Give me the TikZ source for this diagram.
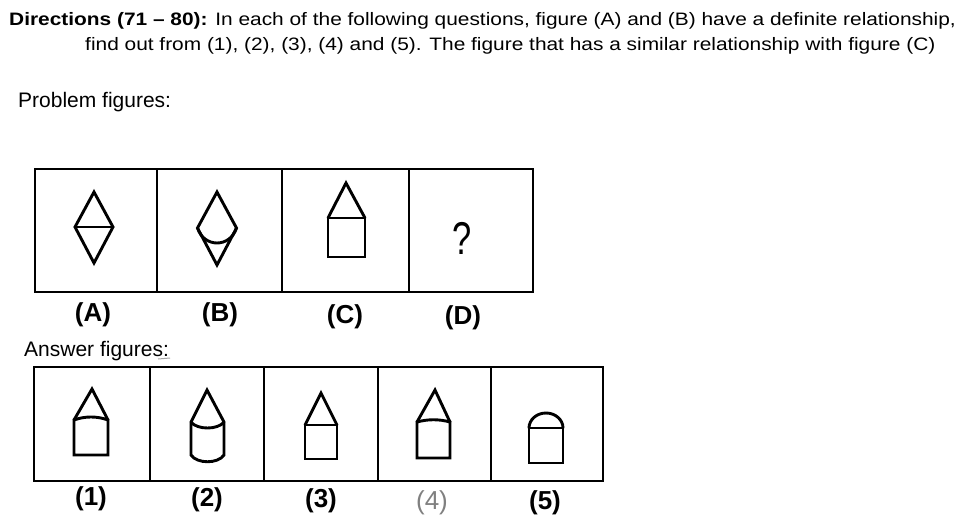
\documentclass[tikz,border=0pt]{standalone}
\usepackage{fontspec}
\setmainfont{Liberation Sans}
\newfontfamily\headfont[FakeStretch=1.16]{Liberation Sans}
\begin{document}
\begin{tikzpicture}[x=1pt,y=-1pt,
  boxline/.style={line width=2.9pt,line join=miter},
  shapeline/.style={line width=2.9pt,line join=miter,line cap=round},
  headtxt/.style={inner sep=0pt,anchor=base west,font=\headfont\fontsize{18}{20}\selectfont},
  captxt/.style={inner sep=0pt,anchor=base west,font=\fontsize{21}{24}\selectfont},
  lbl/.style={inner sep=0pt,font=\fontsize{26}{28}\selectfont\bfseries}]
\useasboundingbox (0,0) rectangle (968,532);
\fill[white] (0,0) rectangle (968,532);
% header
\node[headtxt] (h1) at (9,26) {\textbf{Directions (71 – 80):} In each of the following questions, figure (A) and (B) have a definite relationship,};
\node[headtxt] (h2) at (85,51) {find out from (1), (2), (3), (4) and (5). The figure that has a similar relationship with figure (C)};
\node[captxt] (pf) at (18,107) {Problem figures:};
\node[captxt] (af) at (24,356) {Answer figures:};
\draw[gray!70,line width=1pt] (158,359) -- (170,358);
% problem boxes
\draw[boxline] (35,169) rectangle (533,292);
\foreach \x in {157,282,409} \draw[boxline] (\x,169) -- (\x,292);
% A
\draw[shapeline] (94,192) -- (113,227) -- (94,263) -- (75,227) -- cycle;
\draw[shapeline] (75,227) -- (113,227);
% B
\draw[shapeline] (217,192) -- (236.5,228) -- (217,265) -- (197.5,228) -- cycle;
\draw[shapeline] (197.5,228) .. controls (204,248) and (230,248) .. (236.5,228);
% C
\draw[shapeline] (328,218) -- (346,183) -- (365,218);
\draw[shapeline] (328,218) rectangle (365,257);
% D
\node[inner sep=0pt,font=\fontsize{46}{46}\selectfont] (q) at (462,238) {\scalebox{0.75}[1]{?}};
% labels
\node[lbl] (la) at (93,315) {(A)};
\node[lbl] (lb) at (220,315) {(B)};
\node[lbl] (lc) at (345,317) {(C)};
\node[lbl] (ld) at (463,318) {(D)};
% answer boxes
\draw[boxline] (34,367) rectangle (603,481);
\foreach \x in {150,264,378,491} \draw[boxline] (\x,367) -- (\x,481);
% 1
\draw[shapeline] (74,420) -- (92,389) -- (108,420);
\draw[shapeline] (74,420) .. controls (85,416) and (97,416) .. (108,420) -- (108,455) -- (74,455) -- cycle;
% 2
\draw[shapeline] (191,422) -- (207,390) -- (224,422);
\draw[shapeline] (191,422) .. controls (197,430) and (218,430) .. (224,422);
\draw[shapeline] (191,422) -- (191,455) .. controls (197,464) and (218,464) .. (224,455) -- (224,422);
% 3
\draw[shapeline] (305,425) -- (321,393) -- (337,425);
\draw[shapeline] (305,425) rectangle (337,459);
% 4
\draw[shapeline] (417,422) -- (435,390) -- (450,422);
\draw[shapeline] (417,422) .. controls (428,419) and (439,419) .. (450,422) -- (450,458) -- (417,458) -- cycle;
% 5
\draw[shapeline] (529,428) arc[start angle=180,end angle=0,x radius=17,y radius=-15];
\draw[shapeline] (529,428) rectangle (563,463);
% answer labels
\node[lbl] (l1) at (91,499) {(1)};
\node[lbl] (l2) at (207,500) {(2)};
\node[lbl] (l3) at (321,501) {(3)};
\node[lbl,text=gray,font=\fontsize{26}{28}\selectfont] (l4) at (432,503) {(4)};
\node[lbl] (l5) at (545,503) {(5)};
\end{tikzpicture}
\end{document}
